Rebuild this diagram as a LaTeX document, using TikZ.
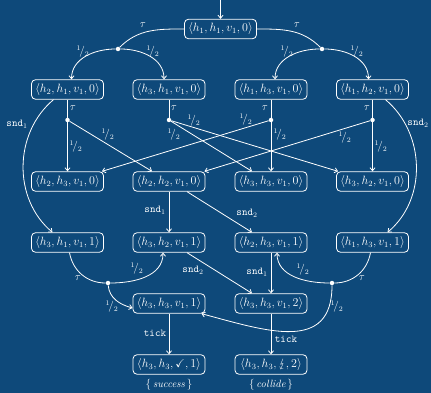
\documentclass[tikz,border=0pt]{standalone}
\usepackage{amssymb}
\usepackage{stmaryrd}
\usetikzlibrary{arrows.meta}
\definecolor{bg}{HTML}{0E497A}
% state tuple and the one-half probability label
\newcommand{\st}[4]{$\langle #1, #2, #3, #4\rangle$}
\newcommand{\hfp}{${}^{1}\!/{}_{2}$}
\newcommand{\snd}[1]{\texttt{snd}$_{#1}$}
\begin{document}
\begin{tikzpicture}[x=1pt,y=-1pt,
  state/.style={draw=white, line width=0.8pt, rounded corners=4pt, fill=bg,
    minimum width=72pt, minimum height=19.5pt, inner sep=1pt, text=white,
    font=\fontsize{11.5}{13}\selectfont},
  pdot/.style={circle, fill=white, inner sep=0pt, minimum size=4.5pt},
  wire/.style={draw=white, line width=0.8pt},
  edge/.style={wire, -{Straight Barb[length=3pt,width=5pt]}},
  lbl/.style={text=white, inner sep=1pt, font=\fontsize{10.5}{12}\selectfont}]
\fill[bg] (0,0) rectangle (431,393);
\useasboundingbox (0,0) rectangle (431,393);

% states
\node[state] (s0)  at (220.5,29)   {\st{h_1}{h_1}{v_1}{0}};
\node[state] (s21) at (67.5,89.5)  {\st{h_2}{h_1}{v_1}{0}};
\node[state] (s22) at (169,89.5)   {\st{h_3}{h_1}{v_1}{0}};
\node[state] (s23) at (271,89.5)   {\st{h_1}{h_3}{v_1}{0}};
\node[state] (s24) at (372.5,89.5) {\st{h_1}{h_2}{v_1}{0}};
\node[state] (s31) at (67.5,181.5) {\st{h_2}{h_3}{v_1}{0}};
\node[state] (s32) at (169,181.5)  {\st{h_2}{h_2}{v_1}{0}};
\node[state] (s33) at (271,181.5)  {\st{h_3}{h_3}{v_1}{0}};
\node[state] (s34) at (372.5,181.5){\st{h_3}{h_2}{v_1}{0}};
\node[state] (s41) at (67.5,242.5) {\st{h_3}{h_1}{v_1}{1}};
\node[state] (s42) at (169,242.5)  {\st{h_3}{h_2}{v_1}{1}};
\node[state] (s43) at (271,242.5)  {\st{h_2}{h_3}{v_1}{1}};
\node[state] (s44) at (372.5,242.5){\st{h_1}{h_3}{v_1}{1}};
\node[state] (s51) at (169,303.5)  {\st{h_3}{h_3}{v_1}{1}};
\node[state] (s53) at (271,303.5)  {\st{h_3}{h_3}{v_1}{2}};
\node[state] (s61) at (169,364.5)  {\st{h_3}{h_3}{\checkmark}{1}};
\node[state] (s62) at (271,364.5)  {\st{h_3}{h_3}{\lightning}{2}};
\node[lbl] (ok)  at (169,385) {$\{\,\textit{success}\,\}$};
\node[lbl] (bad) at (271,385) {$\{\,\textit{collide}\,\}$};

% probabilistic branching points
\node[pdot] (dL) at (118,49) {};
\node[pdot] (dR) at (322,49) {};
\node[pdot] (dA) at (67.5,120) {};
\node[pdot] (dB) at (169,120) {};
\node[pdot] (dC) at (271,120) {};
\node[pdot] (dD) at (372.5,120) {};
\node[pdot] (dE) at (108,283) {};
\node[pdot] (dF) at (332,283) {};
\coordinate (init) at (220.5,0);

% initial state
\draw[edge] (init) -- (s0.north);

% first tau step
\draw[wire] (s0.west) to[out=180,in=45] (dL);
\draw[edge] (dL) to[out=180,in=90] ([xshift=4pt]s21.north);
\draw[edge] (dL) to[out=0,in=90] ([xshift=-5pt]s22.north);
\draw[wire] (s0.east) to[out=0,in=135] (dR);
\draw[edge] (dR) to[out=180,in=90] ([xshift=4pt]s23.north);
\draw[edge] (dR) to[out=0,in=90] ([xshift=-4pt]s24.north);

% second tau step
\draw[wire] (s21.south) -- (dA);
\draw[wire] (s22.south) -- (dB);
\draw[wire] (s23.south) -- (dC);
\draw[wire] (s24.south) -- (dD);
\draw[edge] (dA) -- (s31.north);
\draw[edge] (dA) -- ([xshift=-17pt]s32.north);
\draw[edge] (dB) -- ([xshift=-19pt]s33.north);
\draw[edge] (dB) -- ([xshift=2pt]s34.north west);
\draw[edge] (dC) -- (s33.north);
\draw[edge] (dC) -- ([xshift=-2pt]s31.north east);
\draw[edge] (dD) -- (s34.north);
\draw[edge] (dD) -- ([xshift=-1pt]s32.north east);

% sends
\draw[edge] ([xshift=-14pt]s21.south) to[out=-140,in=140] ([xshift=-15pt]s41.north);
\draw[edge] ([xshift=13pt]s24.south) to[out=-40,in=40] ([xshift=15pt]s44.north);
\draw[edge] (s32.south) -- (s42.north);
\draw[edge] ([xshift=18pt]s32.south) -- ([xshift=-19pt]s43.north);
\draw[edge] ([xshift=18pt]s42.south) -- ([xshift=-19pt]s53.north);
\draw[edge] (s43.south) -- (s53.north);

% tau steps after one send
\draw[wire] ([xshift=2pt]s41.south) to[out=-80,in=180] (dE);
\draw[edge] (dE) to[out=0,in=-90] ([xshift=-6pt]s42.south);
\draw[edge] (dE) to[out=-85,in=165] ([yshift=-4.5pt]s51.west);
\draw[wire] ([xshift=-2pt]s44.south) to[out=-100,in=0] (dF);
\draw[edge] (dF) to[out=180,in=-90] ([xshift=6pt]s43.south);
\draw[edge] (dF) to[out=-90,in=-15,looseness=1.3] ([xshift=-4pt]s51.south east);

% ticks
\draw[edge] (s51.south) -- (s61.north);
\draw[edge] (s53.south) -- (s62.north);

% labels
\node[lbl] (t1) at (143,25) {$\tau$};
\node[lbl] (t2) at (297,25) {$\tau$};
\node[lbl] (p1) at (83,52) {\hfp};
\node[lbl] (p2) at (153,52) {\hfp};
\node[lbl] (p3) at (287,52) {\hfp};
\node[lbl] (p4) at (357,52) {\hfp};
\node[lbl] (t3) at (73,108) {$\tau$};
\node[lbl] (t4) at (174,108) {$\tau$};
\node[lbl] (t5) at (265,108) {$\tau$};
\node[lbl] (t6) at (367,108) {$\tau$};
\node[lbl] (n1) at (17,124) {\snd{1}};
\node[lbl] (n2) at (418,123) {\snd{2}};
\node[lbl] (p5) at (76,147) {\hfp};
\node[lbl] (p6) at (108,135) {\hfp};
\node[lbl] (p7) at (174,135) {\hfp};
\node[lbl] (p8) at (194,121) {\hfp};
\node[lbl] (p9) at (246,120) {\hfp};
\node[lbl] (p10) at (280,135) {\hfp};
\node[lbl] (p11) at (345,138) {\hfp};
\node[lbl] (p12) at (381,147) {\hfp};
\node[lbl] (n3) at (155,210) {\snd{1}};
\node[lbl] (n4) at (247,213) {\snd{2}};
\node[lbl] (t7) at (78,278) {$\tau$};
\node[lbl] (p13) at (137,269) {\hfp};
\node[lbl] (p14) at (112,307) {\hfp};
\node[lbl] (t8) at (362,278) {$\tau$};
\node[lbl] (p15) at (303,270) {\hfp};
\node[lbl] (p16) at (337,307) {\hfp};
\node[lbl] (n5) at (193,270) {\snd{2}};
\node[lbl] (n6) at (257,272) {\snd{1}};
\node[lbl] (k1) at (155,333) {\texttt{tick}};
\node[lbl] (k2) at (286,339) {\texttt{tick}};
\end{tikzpicture}
\end{document}
